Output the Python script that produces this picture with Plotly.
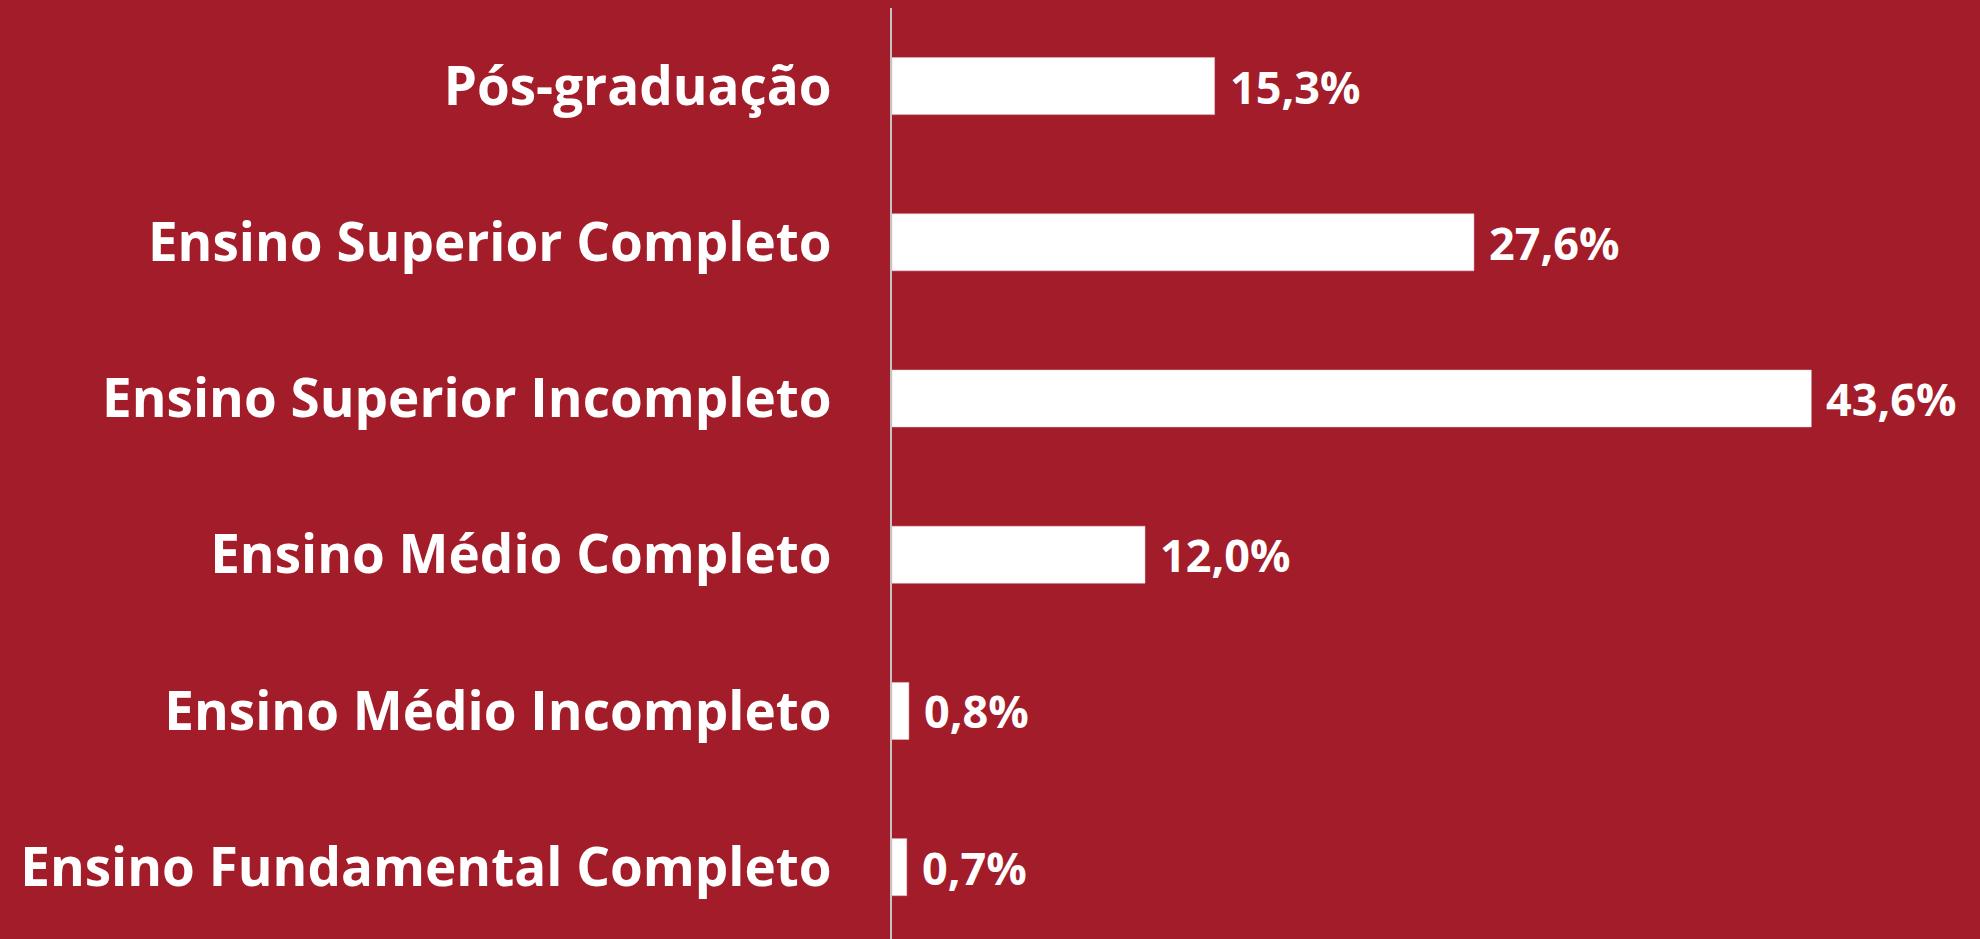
import plotly.graph_objects as go

categories = [
    "Ensino Fundamental Completo",
    "Ensino Médio Incompleto",
    "Ensino Médio Completo",
    "Ensino Superior Incompleto",
    "Ensino Superior Completo",
    "Pós-graduação",
]
values = [0.7, 0.8, 12.0, 43.6, 27.6, 15.3]

BG = "#A31C29"
FONT = "Open Sans"

def fmt(v):
    return f"{v:.1f}".replace(".", ",") + "%"

fig = go.Figure(
    go.Bar(
        x=values,
        y=categories,
        orientation="h",
        marker=dict(color="white", line=dict(color="#E6C9CC", width=0.5)),
        width=0.365,
        hoverinfo="skip",
    )
)

for c, v in zip(categories, values):
    fig.add_annotation(
        x=v, y=c, text=fmt(v), showarrow=False, xanchor="left", yanchor="middle",
        xshift=13, font=dict(family=FONT, size=45, color="white", weight="bold"),
    )

fig.update_layout(
    width=1980,
    height=939,
    autosize=False,
    paper_bgcolor=BG,
    plot_bgcolor=BG,
    margin=dict(l=892, r=0, t=8, b=0),
    showlegend=False,
    xaxis=dict(range=[0, 51.6], visible=False, showgrid=False, zeroline=False),
    yaxis=dict(
        range=[-0.46, 5.5],
        showgrid=False,
        zeroline=False,
        showline=True,
        linecolor="#C4C4C4",
        linewidth=1.5,
        ticks="",
        ticklabelstandoff=48,
        tickfont=dict(family=FONT, size=53, color="white", weight="bold"),
    ),
)

fig.write_html(
    "out.html",
    config={"displayModeBar": False},
    post_script="document.body.style.margin='0';document.body.style.background='" + BG + "';",
)
